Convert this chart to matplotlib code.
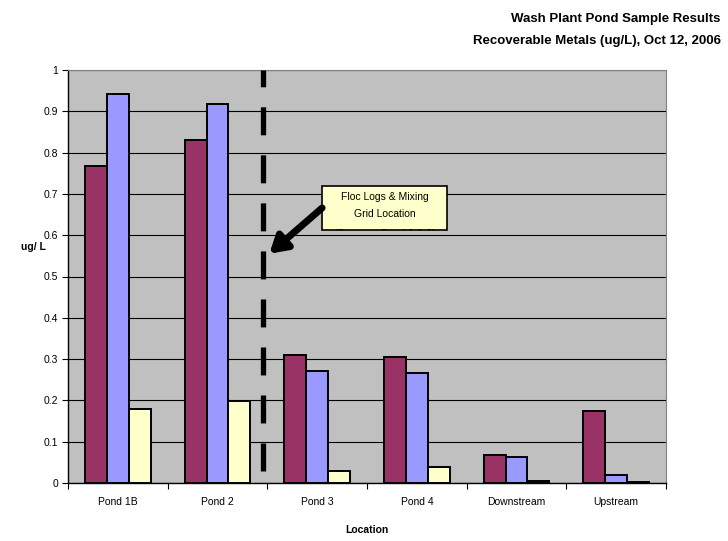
import matplotlib.pyplot as plt
import matplotlib.patches as mpatches
import numpy as np

plt.rcParams['font.family'] = ['Liberation Sans', 'DejaVu Sans']

#%% dados
locations = ['Pond 1B', 'Pond 2', 'Pond 3', 'Pond 4', 'Downstream', 'Upstream']
serie_a = [0.768, 0.830, 0.309, 0.304, 0.067, 0.174]  # vermelho
serie_b = [0.942, 0.918, 0.270, 0.266, 0.062, 0.019]  # azul
serie_c = [0.179, 0.198, 0.029, 0.039, 0.004, 0.003]  # amarelo
yticks = np.round(np.arange(0, 1.01, 0.1), 1)

#%% figura
fig = plt.figure(figsize=(7.28, 5.41), dpi=100)
ax = fig.add_axes([68/728, 58/541, 598/728, 413/541])
ax.set_facecolor('#C0C0C0')

x = np.arange(len(locations))
w = 0.22
cores = ['#993366', '#9999FF', '#FFFFCC']
for i, (vals, c) in enumerate(zip([serie_a, serie_b, serie_c], cores)):
    ax.bar(x + (i - 1)*w, vals, w, color=c, edgecolor='black', linewidth=1.4, zorder=3)

ax.set_xlim(-0.5, len(locations) - 0.5)
ax.set_ylim(0, 1)
ax.set_yticks(yticks)
ax.set_yticklabels([('%g' % v) for v in yticks], fontsize=7.5)
ax.yaxis.grid(True, color='black', linewidth=0.8, zorder=1)
ax.set_axisbelow(True)

# ticks do eixo x nas divisas entre categorias
ax.set_xticks(np.arange(-0.5, len(locations)), minor=False)
ax.set_xticklabels([])
ax.set_xticks(x, minor=True)
ax.set_xticklabels(locations, minor=True, fontsize=7.5)
ax.tick_params(axis='x', which='minor', length=0, pad=10)
ax.tick_params(axis='x', which='major', length=4, direction='out')
ax.tick_params(axis='y', length=4, direction='out', pad=3)

for s in ['top', 'right']:
    ax.spines[s].set_color('#808080')
ax.spines['left'].set_linewidth(1.0)
ax.spines['bottom'].set_linewidth(1.0)

# linha tracejada entre Pond 2 e Pond 3
ax.plot([1.46, 1.46], [0.03, 1.0], color='black', lw=3.8,
        linestyle=(0, (5.3, 3.8)), solid_capstyle='butt', zorder=4)

# caixa de texto com a seta
caixa = mpatches.Rectangle((2.047, 0.613), 1.254, 0.106, facecolor='#FFFFCC',
                           edgecolor='black', linewidth=1.2, zorder=5)
ax.add_patch(caixa)
ax.text(2.675, 0.693, 'Floc Logs & Mixing', ha='center', va='center', fontsize=7.5, zorder=6)
ax.text(2.675, 0.652, 'Grid Location', ha='center', va='center', fontsize=7.5, zorder=6)
t3 = ax.text(2.675, 0.603, '(Between Pond 2 & 3)', ha='center', va='center', fontsize=7.5, zorder=6)
t3.set_clip_on(True)
t3.set_clip_path(caixa)
ax.annotate('', xy=(1.52, 0.555), xytext=(2.05, 0.666),
            arrowprops=dict(arrowstyle='-|>,head_length=1.0,head_width=0.6', color='black',
                            lw=5, shrinkA=0, shrinkB=0), zorder=6)

fig.text(0.99, 0.965, 'Wash Plant Pond Sample Results', ha='right', va='center',
         fontsize=9.5, fontweight='bold')
fig.text(0.99, 0.925, 'Recoverable Metals (ug/L), Oct 12, 2006', ha='right', va='center',
         fontsize=9.5, fontweight='bold')
ax.set_ylabel('ug/ L', rotation=0, fontsize=7.5, fontweight='bold', labelpad=8)
ax.yaxis.set_label_coords(-0.058, 0.56)
ax.set_xlabel('Location', fontsize=7.5, fontweight='bold', labelpad=13)

fig.savefig('out.png', dpi=100)
